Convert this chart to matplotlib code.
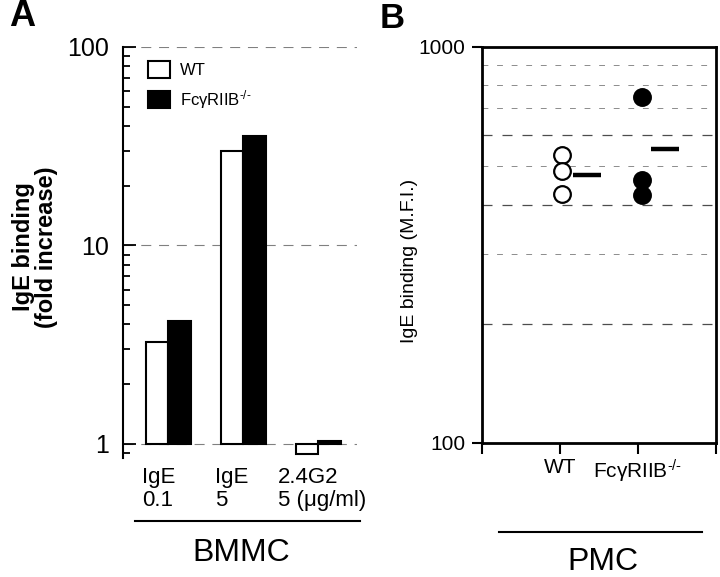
import numpy as np
import matplotlib.pyplot as plt
from matplotlib.lines import Line2D
from matplotlib.ticker import LogLocator, NullFormatter

plt.rcParams['font.family'] = ['Liberation Sans', 'DejaVu Sans']
plt.rcParams['mathtext.fontset'] = 'custom'
plt.rcParams['mathtext.rm'] = 'Liberation Sans'
plt.rcParams['mathtext.it'] = 'Liberation Sans:italic'

# panel A: BMMC, fold increase of IgE binding
groups = ["IgE\n0.1", "IgE\n5", "2.4G2\n5 (\u03bcg/ml)"]
wt_fold = [3.26, 29.9, 0.89]
ko_fold = [4.17, 35.6, 1.035]

# panel B: PMC, IgE binding (M.F.I.)
ko_name = "Fc\u03b3RIIB$^{\\text{-/-}}$"
pmc_groups = ["WT", ko_name]
pmc_wt = [534, 486, 425]
pmc_ko = [748, 461, 423]
pmc_means = [475, 553]

W, H = 720, 577
fx = lambda x: x / W
fy = lambda y: 1 - y / H

fig = plt.figure(figsize=(7.2, 5.77), dpi=100)

# ---------------- panel A ----------------
axA = fig.add_axes([fx(123), fy(458), fx(357 - 123), (458 - 47) / H])
x = np.arange(len(groups))
bw = 0.3
for yv in [1, 10, 100]:
    axA.axhline(yv, color='0.5', lw=0.8, dashes=(9, 7), zorder=0)
wt = np.array(wt_fold)
ko = np.array(ko_fold)
axA.bar(x - bw / 2, wt - 1, bottom=1, width=bw, color='white', edgecolor='black', lw=1.5, zorder=2,
        label='WT')
axA.bar(x + bw / 2, ko - 1, bottom=1, width=bw, color='black', edgecolor='black', lw=1.5, zorder=2,
        label=ko_name)
axA.set_yscale('log')
axA.set_ylim(0.85, 100)
axA.set_xlim(-0.6, 2.52)
axA.set_xticks([])
axA.set_yticks([1, 10, 100])
axA.set_yticklabels(['1', '10', '100'], fontsize=18)
axA.yaxis.set_minor_locator(LogLocator(base=10, subs=np.arange(2, 10)))
axA.yaxis.set_minor_formatter(NullFormatter())
axA.tick_params(axis='y', which='major', direction='in', length=9, width=1.3, pad=10)
axA.tick_params(axis='y', which='minor', direction='in', length=5, width=1.3)
for s in ['top', 'right', 'bottom']:
    axA.spines[s].set_visible(False)
axA.spines['left'].set_linewidth(1.5)

leg = axA.legend(loc='upper left', bbox_to_anchor=(fx(148 - 123) / fx(234), 1 - 14 / 411),
                 frameon=False, fontsize=12, handlelength=1.3, handleheight=1.15,
                 handletextpad=0.6, labelspacing=0.6, borderpad=0, borderaxespad=0)

label_x = [142, 215, 278]
for lx, g in zip(label_x, groups):
    fig.text(fx(lx), fy(489), g, fontsize=16, ha='left', va='center', linespacing=1.1)
fig.add_artist(Line2D([fx(135), fx(360)], [fy(521), fy(521)], color='black', lw=1.5))
fig.text(fx(241), fy(553), 'BMMC', fontsize=23, ha='center', va='center')
fig.text(fx(35), fy(247), 'IgE binding\n(fold increase)', fontsize=17, fontweight='bold',
         rotation=90, ha='center', va='center', linespacing=0.95)
fig.text(fx(22), fy(16), 'A', fontsize=26, fontweight='bold', ha='center', va='center')

# ---------------- panel B ----------------
axB = fig.add_axes([fx(482), fy(443), fx(716 - 482), (443 - 47) / H])
axB.set_yscale('log')
axB.set_ylim(100, 1000)
axB.set_xlim(0, 3)
for yv in [200, 400, 600]:
    axB.axhline(yv, color='0.3', lw=0.9, dashes=(8, 8), zorder=0)
for yv in [300, 500, 700, 800, 900]:
    axB.axhline(yv, color='0.55', lw=0.7, dashes=(6, 9), zorder=0)

axB.plot([1.03] * len(pmc_wt), pmc_wt, 'o', ms=12, mfc='white', mec='black', mew=1.6, zorder=3)
axB.plot([2.05] * len(pmc_ko), pmc_ko, 'o', ms=12, mfc='black', mec='black', mew=1.6, zorder=3)
axB.hlines(pmc_means, np.array([1, 2]) + 0.17, np.array([1, 2]) + 0.53, color='black', lw=3.2, zorder=3)

axB.set_yticks([100, 1000])
axB.set_yticklabels(['100', '1000'], fontsize=15)
axB.yaxis.set_minor_locator(plt.NullLocator())
axB.tick_params(axis='y', direction='out', length=7, width=1.5, pad=5)
axB.set_xticks([0, 1, 2, 3])
axB.set_xticklabels([''] + pmc_groups + [''], fontsize=15)
axB.tick_params(axis='x', direction='out', length=8, width=1.5, pad=3)
for s in axB.spines.values():
    s.set_linewidth(2)

fig.add_artist(Line2D([fx(499), fx(702)], [fy(532), fy(532)], color='black', lw=1.5))
fig.text(fx(603), fy(562), 'PMC', fontsize=23, ha='center', va='center')
fig.text(fx(410), fy(261), 'IgE binding (M.F.I.)', fontsize=14, rotation=90, ha='center', va='center')
fig.text(fx(392), fy(18), 'B', fontsize=25, fontweight='bold', ha='center', va='center')

fig.savefig('out.png', dpi=100)
